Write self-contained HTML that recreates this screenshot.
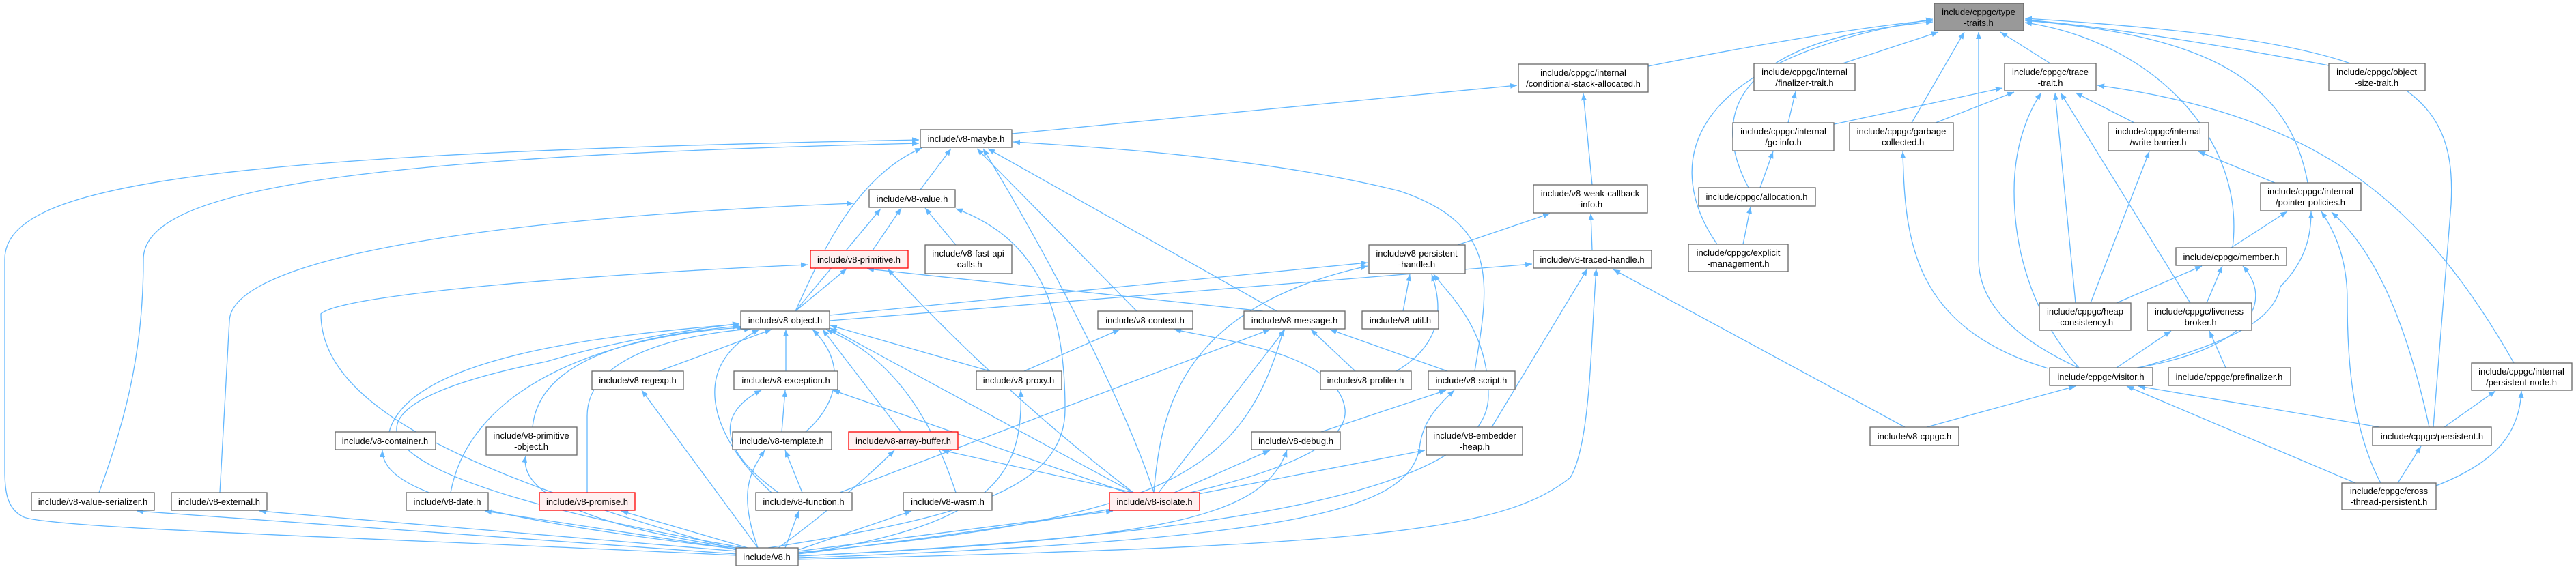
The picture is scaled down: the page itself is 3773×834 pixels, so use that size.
<!DOCTYPE html>
<html><head><meta charset="utf-8"><style>
html,body{margin:0;padding:0;background:#fff;}
svg{display:block;}
text{font-family:"Liberation Sans",Arial,sans-serif;font-size:13px;fill:#000;text-anchor:middle;}
.e{fill:none;stroke:#63b8ff;stroke-width:1.3;marker-end:url(#a);}
.n{fill:#fff;stroke:#666;stroke-width:1.3;}
.r{fill:#fff0f0;stroke:#f00;stroke-width:1.3;}
.g{fill:#999;stroke:#666;stroke-width:1.3;}
</style></head><body>
<svg width="3773" height="834" viewBox="0 0 3773 834" xmlns="http://www.w3.org/2000/svg">
<defs><marker id="a" markerUnits="userSpaceOnUse" markerWidth="11" markerHeight="9" refX="10" refY="4" orient="auto"><path d="M0,0 L10,4 L0,8 z" fill="#63b8ff"/></marker></defs>
<g>
<path class="e" d="M3003,93 L2930,47"/>
<path class="e" d="M2699,93 L2839,47"/>
<path class="e" d="M2800,180 L2877,47"/>
<path class="e" d="M3044,539 C2960,500 2898,450 2898,380 L2898,47"/>
<path class="e" d="M2414,97 C2600,60 2760,35 2831,30"/>
<path class="e" d="M2561,275 C2510,180 2520,60 2831,32"/>
<path class="e" d="M2515,358 C2440,250 2450,90 2831,28"/>
<path class="e" d="M3270,363 C3290,200 3150,60 2966,33"/>
<path class="e" d="M3380,268 C3350,100 3200,50 2966,30"/>
<path class="e" d="M3411,96 C3300,75 3100,40 2966,29"/>
<path class="e" d="M3564,626 L3590,300 C3600,120 3500,60 2966,27"/>
<path class="e" d="M2682,183 L2933,129"/>
<path class="e" d="M2835,180 L2950,135"/>
<path class="e" d="M3126,180 L3040,136"/>
<path class="e" d="M3040,444 L3010,136"/>
<path class="e" d="M3208,444 L3018,136"/>
<path class="e" d="M3045,539 C3000,490 2950,400 2950,280 C2950,200 2980,150 2990,136"/>
<path class="e" d="M3682,532 C3550,300 3400,170 3072,125"/>
<path class="e" d="M2619,180 L2630,134"/>
<path class="e" d="M2578,275 L2597,222"/>
<path class="e" d="M2553,358 L2564,303"/>
<path class="e" d="M3000,540 C2800,480 2790,350 2787,222"/>
<path class="e" d="M3062,444 L3148,222"/>
<path class="e" d="M3332,268 L3220,222"/>
<path class="e" d="M3268,363 L3350,310"/>
<path class="e" d="M3100,444 L3225,390"/>
<path class="e" d="M3232,444 L3255,390"/>
<path class="e" d="M3130,539 C3300,510 3330,440 3285,390"/>
<path class="e" d="M3130,540 C3270,500 3330,470 3340,420 C3380,380 3385,340 3385,310"/>
<path class="e" d="M3100,539 L3180,485"/>
<path class="e" d="M3260,539 L3236,485"/>
<path class="e" d="M3487,708 C3440,620 3438,500 3438,440 C3438,380 3420,340 3400,310"/>
<path class="e" d="M3558,626 C3520,450 3470,360 3415,311"/>
<path class="e" d="M2822,626 L3040,566"/>
<path class="e" d="M3485,626 L3132,566"/>
<path class="e" d="M3450,708 L3115,566"/>
<path class="e" d="M3580,626 L3655,573"/>
<path class="e" d="M3568,712 C3650,680 3690,640 3693,573"/>
<path class="e" d="M3512,708 L3546,654"/>
<path class="e" d="M2790,626 L2363,395"/>
<path class="e" d="M1482,196 L2222,125"/>
<path class="e" d="M2332,271 L2319,137"/>
<path class="e" d="M2135,359 L2270,313"/>
<path class="e" d="M2332,367 L2330,313"/>
<path class="e" d="M1348,278 L1393,218"/>
<path class="e" d="M1165,456 C1200,380 1250,260 1350,217"/>
<path class="e" d="M1665,456 L1431,218"/>
<path class="e" d="M1870,456 L1447,218"/>
<path class="e" d="M2160,544 C2180,420 2200,330 2050,280 C1850,230 1600,215 1484,208"/>
<path class="e" d="M1078,814 C600,790 60,775 33,757 C10,745 7,720 7,690 L7,380 C7,270 300,225 1346,205"/>
<path class="e" d="M145,722 C190,600 210,500 210,380 C210,280 500,230 1346,210"/>
<path class="e" d="M1278,367 L1320,305"/>
<path class="e" d="M1400,359 L1355,305"/>
<path class="e" d="M1165,456 L1290,306"/>
<path class="e" d="M322,722 L336,470 C340,380 700,320 1250,298"/>
<path class="e" d="M1078,806 C700,700 470,600 470,460 C500,430 900,400 1183,388"/>
<path class="e" d="M1165,456 L1240,394"/>
<path class="e" d="M1850,456 L1270,394"/>
<path class="e" d="M1660,722 C1500,600 1380,480 1300,394"/>
<path class="e" d="M1125,803 C1400,760 1560,720 1560,600 C1560,450 1520,350 1400,306"/>
<path class="e" d="M1690,722 C1650,600 1550,400 1440,218"/>
<path class="e" d="M965,544 L1130,483"/>
<path class="e" d="M1151,544 L1151,483"/>
<path class="e" d="M570,633 C600,520 900,490 1083,475"/>
<path class="e" d="M780,626 C790,520 950,490 1083,478"/>
<path class="e" d="M660,722 C690,560 900,490 1090,480"/>
<path class="e" d="M860,722 L860,610 C860,520 1000,490 1100,482"/>
<path class="e" d="M1180,633 C1240,580 1230,520 1190,483"/>
<path class="e" d="M1130,722 C1050,650 1000,540 1112,483"/>
<path class="e" d="M1320,633 L1205,483"/>
<path class="e" d="M1400,722 C1360,600 1300,520 1210,483"/>
<path class="e" d="M1450,544 L1216,477"/>
<path class="e" d="M1660,722 L1216,481"/>
<path class="e" d="M1090,803 C500,700 450,600 800,530 C900,500 1000,485 1083,474"/>
<path class="e" d="M1215,462 L2003,385"/>
<path class="e" d="M1215,470 L2244,387"/>
<path class="e" d="M1145,633 L1150,572"/>
<path class="e" d="M1140,722 C1040,650 1060,600 1115,572"/>
<path class="e" d="M1650,722 L1220,572"/>
<path class="e" d="M1175,722 L1150,660"/>
<path class="e" d="M1110,803 C1080,720 1100,690 1120,660"/>
<path class="e" d="M1500,544 L1640,483"/>
<path class="e" d="M1169,812 C1600,760 1980,700 1970,600 C1960,520 1800,500 1720,483"/>
<path class="e" d="M1230,722 L1860,483"/>
<path class="e" d="M1985,544 L1920,483"/>
<path class="e" d="M2120,544 L1948,483"/>
<path class="e" d="M1697,722 L1882,483"/>
<path class="e" d="M1169,810 C1700,760 1820,700 1880,483"/>
<path class="e" d="M2055,456 L2065,402"/>
<path class="e" d="M2045,544 C2120,500 2110,440 2097,402"/>
<path class="e" d="M1690,722 C1700,600 1730,450 2003,390"/>
<path class="e" d="M1169,815 C1900,780 2180,700 2180,580 C2180,480 2120,430 2100,402"/>
<path class="e" d="M1935,633 L2118,572"/>
<path class="e" d="M1169,818 C1900,790 2070,750 2080,650 C2085,620 2100,600 2130,572"/>
<path class="e" d="M1720,722 L1860,660"/>
<path class="e" d="M1169,815 C1700,790 1850,760 1885,660"/>
<path class="e" d="M1755,724 L2087,660"/>
<path class="e" d="M2185,626 L2325,394"/>
<path class="e" d="M1169,820 C2000,800 2200,780 2300,700 C2330,650 2330,500 2338,394"/>
<path class="e" d="M1660,722 L1380,660"/>
<path class="e" d="M1140,803 C1200,760 1270,700 1310,660"/>
<path class="e" d="M1169,808 L1630,749"/>
<path class="e" d="M1169,806 L1335,749"/>
<path class="e" d="M1169,812 C1450,770 1500,700 1495,572"/>
<path class="e" d="M1150,803 L1170,749"/>
<path class="e" d="M1095,803 L910,749"/>
<path class="e" d="M1085,806 L710,749"/>
<path class="e" d="M1080,808 L380,749"/>
<path class="e" d="M1078,812 L200,749"/>
<path class="e" d="M1082,805 C700,760 560,720 560,660"/>
<path class="e" d="M1085,804 C850,770 760,720 770,668"/>
<path class="e" d="M1110,803 L940,572"/>
</g>
<g>
<rect class="g" x="2833" y="5" width="131" height="40"/><text x="2898" y="22">include/cppgc/type</text><text x="2898" y="38">-traits.h</text>
<rect class="n" x="2936" y="93" width="134" height="40"/><text x="3003" y="110">include/cppgc/trace</text><text x="3003" y="126">-trait.h</text>
<rect class="n" x="3411" y="93" width="141" height="40"/><text x="3481" y="110">include/cppgc/object</text><text x="3481" y="126">-size-trait.h</text>
<rect class="n" x="2569" y="93" width="148" height="40"/><text x="2643" y="110">include/cppgc/internal</text><text x="2643" y="126">/finalizer-trait.h</text>
<rect class="n" x="2224" y="94" width="190" height="41"/><text x="2319" y="111">include/cppgc/internal</text><text x="2319" y="127">/conditional-stack-allocated.h</text>
<rect class="n" x="2538" y="180" width="148" height="41"/><text x="2612" y="197">include/cppgc/internal</text><text x="2612" y="213">/gc-info.h</text>
<rect class="n" x="2709" y="180" width="152" height="41"/><text x="2785" y="197">include/cppgc/garbage</text><text x="2785" y="213">-collected.h</text>
<rect class="n" x="3088" y="180" width="147" height="41"/><text x="3161" y="197">include/cppgc/internal</text><text x="3161" y="213">/write-barrier.h</text>
<rect class="n" x="1348" y="190" width="134" height="26"/><text x="1415" y="208">include/v8-maybe.h</text>
<rect class="n" x="2488" y="275" width="171" height="27"/><text x="2573" y="293">include/cppgc/allocation.h</text>
<rect class="n" x="3311" y="268" width="147" height="41"/><text x="3384" y="285">include/cppgc/internal</text><text x="3384" y="301">/pointer-policies.h</text>
<rect class="n" x="1273" y="278" width="126" height="26"/><text x="1336" y="296">include/v8-value.h</text>
<rect class="n" x="2246" y="271" width="167" height="41"/><text x="2329" y="288">include/v8-weak-callback</text><text x="2329" y="304">-info.h</text>
<rect class="r" x="1187" y="367" width="143" height="26"/><text x="1258" y="385">include/v8-primitive.h</text>
<rect class="n" x="1355" y="359" width="127" height="42"/><text x="1418" y="376">include/v8-fast-api</text><text x="1418" y="392">-calls.h</text>
<rect class="n" x="2005" y="359" width="141" height="42"/><text x="2075" y="376">include/v8-persistent</text><text x="2075" y="392">-handle.h</text>
<rect class="n" x="2246" y="367" width="173" height="26"/><text x="2332" y="385">include/v8-traced-handle.h</text>
<rect class="n" x="2473" y="358" width="146" height="40"/><text x="2546" y="375">include/cppgc/explicit</text><text x="2546" y="391">-management.h</text>
<rect class="n" x="3187" y="363" width="162" height="26"/><text x="3268" y="381">include/cppgc/member.h</text>
<rect class="n" x="1085" y="456" width="130" height="26"/><text x="1150" y="474">include/v8-object.h</text>
<rect class="n" x="1608" y="456" width="139" height="26"/><text x="1677" y="474">include/v8-context.h</text>
<rect class="n" x="1822" y="456" width="148" height="26"/><text x="1896" y="474">include/v8-message.h</text>
<rect class="n" x="1995" y="456" width="112" height="26"/><text x="2051" y="474">include/v8-util.h</text>
<rect class="n" x="2987" y="444" width="134" height="40"/><text x="3054" y="461">include/cppgc/heap</text><text x="3054" y="477">-consistency.h</text>
<rect class="n" x="3145" y="444" width="153" height="40"/><text x="3221" y="461">include/cppgc/liveness</text><text x="3221" y="477">-broker.h</text>
<rect class="n" x="867" y="544" width="134" height="27"/><text x="934" y="562">include/v8-regexp.h</text>
<rect class="n" x="1075" y="544" width="152" height="27"/><text x="1151" y="562">include/v8-exception.h</text>
<rect class="n" x="1430" y="544" width="125" height="27"/><text x="1492" y="562">include/v8-proxy.h</text>
<rect class="n" x="1934" y="544" width="133" height="27"/><text x="2000" y="562">include/v8-profiler.h</text>
<rect class="n" x="2092" y="544" width="127" height="27"/><text x="2155" y="562">include/v8-script.h</text>
<rect class="n" x="3002" y="539" width="151" height="26"/><text x="3077" y="557">include/cppgc/visitor.h</text>
<rect class="n" x="3176" y="539" width="179" height="26"/><text x="3265" y="557">include/cppgc/prefinalizer.h</text>
<rect class="n" x="3620" y="532" width="147" height="40"/><text x="3693" y="549">include/cppgc/internal</text><text x="3693" y="565">/persistent-node.h</text>
<rect class="n" x="491" y="633" width="147" height="26"/><text x="564" y="651">include/v8-container.h</text>
<rect class="n" x="712" y="626" width="133" height="41"/><text x="778" y="643">include/v8-primitive</text><text x="778" y="659">-object.h</text>
<rect class="n" x="1073" y="633" width="145" height="26"/><text x="1145" y="651">include/v8-template.h</text>
<rect class="r" x="1243" y="633" width="160" height="26"/><text x="1323" y="651">include/v8-array-buffer.h</text>
<rect class="n" x="1833" y="633" width="130" height="26"/><text x="1898" y="651">include/v8-debug.h</text>
<rect class="n" x="2089" y="626" width="141" height="41"/><text x="2160" y="643">include/v8-embedder</text><text x="2160" y="659">-heap.h</text>
<rect class="n" x="3475" y="626" width="174" height="27"/><text x="3562" y="644">include/cppgc/persistent.h</text>
<rect class="n" x="2739" y="626" width="130" height="27"/><text x="2804" y="644">include/v8-cppgc.h</text>
<rect class="n" x="3430" y="708" width="138" height="39"/><text x="3499" y="724">include/cppgc/cross</text><text x="3499" y="740">-thread-persistent.h</text>
<rect class="n" x="46" y="722" width="180" height="26"/><text x="136" y="740">include/v8-value-serializer.h</text>
<rect class="n" x="251" y="722" width="140" height="26"/><text x="321" y="740">include/v8-external.h</text>
<rect class="n" x="595" y="722" width="120" height="26"/><text x="655" y="740">include/v8-date.h</text>
<rect class="r" x="790" y="722" width="140" height="26"/><text x="860" y="740">include/v8-promise.h</text>
<rect class="n" x="1107" y="722" width="141" height="26"/><text x="1177" y="740">include/v8-function.h</text>
<rect class="n" x="1323" y="722" width="130" height="26"/><text x="1388" y="740">include/v8-wasm.h</text>
<rect class="r" x="1625" y="722" width="132" height="26"/><text x="1691" y="740">include/v8-isolate.h</text>
<rect class="n" x="1078" y="803" width="91" height="26"/><text x="1123" y="821">include/v8.h</text>
</g>
</svg>
</body></html>
